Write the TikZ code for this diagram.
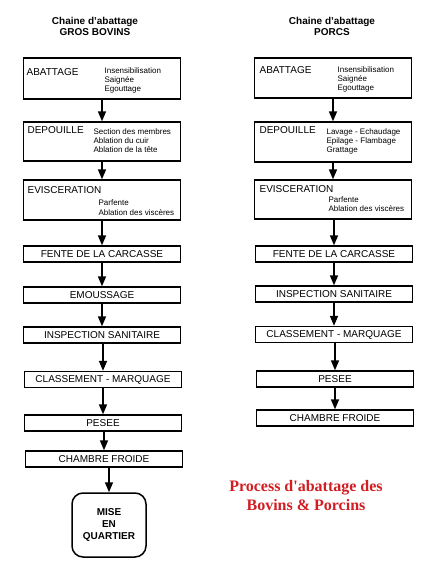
\documentclass[tikz,border=0pt]{standalone}
\usepackage{fontspec}
\setmainfont{Liberation Sans}
\newfontfamily\capfont{Liberation Serif}
\usetikzlibrary{arrows.meta, positioning}
\definecolor{cred}{HTML}{D01E22}
\tikzset{
  every picture/.style={line width=1.2pt},
  stage/.style={draw, line width=1.3pt, minimum width=157pt, minimum height=#1, inner sep=0pt, font=\fontsize{10}{11}\selectfont},
  stage/.default=16pt,
  label/.style={anchor=west, inner sep=0pt, font=\fontsize{10}{11}\selectfont},
  sub/.style={anchor=west, inner sep=0pt, align=left, font=\fontsize{8}{9}\selectfont},
  arrow/.style={-{Triangle[length=10pt, width=8pt]}, line width=1.6pt},
  title/.style={align=center, inner sep=0pt, font=\fontsize{10}{11}\selectfont\bfseries},
  caption/.style={align=center, inner sep=0pt, text=cred, font=\capfont\fontsize{16}{19}\selectfont\bfseries},
}

\begin{document}
\begin{tikzpicture}[x=1pt, y=-1pt]
  \useasboundingbox (0,0) rectangle (431,563);
  % bovins
  \node[title] (tL) at (95,26.5) {Chaine d'abattage\\GROS BOVINS};
  \node[stage=41pt] (abL) at (102,78.5) {};
  \node[label] (abLt) at (26,72) {ABATTAGE};
  \node[sub] (abLs) at (104,80.5) {Insensibilisation\\Saignée\\Egouttage};
  \node[stage=39pt] (depL) at (102,141.5) {};
  \node[label] (depLt) at (27,130) {DEPOUILLE};
  \node[sub] (depLs) at (93,140.5) {Section des membres\\Ablation du cuir\\Ablation de la tête};
  \node[stage=40pt] (eviL) at (102,200) {};
  \node[label] (eviLt) at (27,190) {EVISCERATION};
  \node[sub, font=\fontsize{8}{10}\selectfont] (eviLs) at (98,208) {Parfente\\Ablation des viscères};
  \node[stage] (fenL) at (102,254) {FENTE DE LA CARCASSE};
  \node[stage] (emoL) at (102,295) {EMOUSSAGE};
  \node[stage] (insL) at (102,335) {INSPECTION SANITAIRE};
  \node[stage] (claL) at (103,379.5) {CLASSEMENT - MARQUAGE};
  \node[stage] (pesL) at (103,423) {PESEE};
  \node[stage] (cfL) at (104,459) {CHAMBRE FROIDE};
  \node[draw, line width=1.5pt, rounded corners=11pt, minimum width=74pt, minimum height=64pt, align=center,
        font=\fontsize{10}{12}\selectfont\bfseries] (mqL) at (109,525) {MISE\\EN\\QUARTIER};
  \foreach \a/\b in {abL/depL, depL/eviL, eviL/fenL, fenL/emoL, emoL/insL, insL/claL, claL/pesL, pesL/cfL}
    \draw[arrow] (\a.south -| \b) -- (\b);
  \draw[arrow] (cfL.south -| mqL) -- (mqL);
  % porcs
  \node[title] (tR) at (332,26.5) {Chaine d'abattage\\PORCS};
  \node[stage=40pt] (abR) at (333,78) {};
  \node[label] (abRt) at (259,70) {ABATTAGE};
  \node[sub] (abRs) at (337,79.5) {Insensibilisation\\Saignée\\Egouttage};
  \node[stage=40pt] (depR) at (333,142) {};
  \node[label] (depRt) at (259,130) {DEPOUILLE};
  \node[sub] (depRs) at (326,141) {Lavage - Echaudage\\Epilage - Flambage\\Grattage};
  \node[stage=39pt] (eviR) at (333,199.5) {};
  \node[label] (eviRt) at (259,189) {EVISCERATION};
  \node[sub] (eviRs) at (328,204.5) {Parfente\\Ablation des viscères};
  \node[stage] (fenR) at (334,254) {FENTE DE LA CARCASSE};
  \node[stage] (insR) at (334,294) {INSPECTION SANITAIRE};
  \node[stage] (claR) at (334,334.5) {CLASSEMENT - MARQUAGE};
  \node[stage] (pesR) at (335,379) {PESEE};
  \node[stage] (cfR) at (335,418) {CHAMBRE FROIDE};
  \foreach \a/\b in {abR/depR, depR/eviR, eviR/fenR, fenR/insR, insR/claR, claR/pesR, pesR/cfR}
    \draw[arrow] (\a.south -| \b) -- (\b);
  % legende
  \node[caption] (cap) at (306,495.5) {Process d'abattage des\\Bovins \& Porcins};
\end{tikzpicture}
\end{document}
